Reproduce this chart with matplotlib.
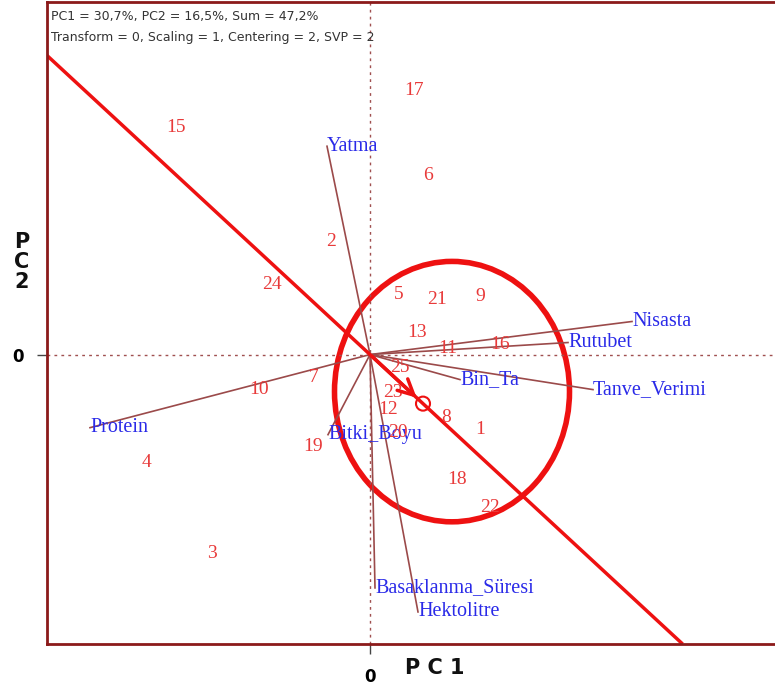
import numpy as np
import matplotlib.pyplot as plt
from matplotlib.patches import Ellipse, Circle

# Genotype scores (PC1, PC2)
gen_names = ['1', '2', '3', '4', '5', '6', '7', '8', '9', '10', '11', '12', '13',
             '15', '16', '17', '18', '19', '20', '21', '22', '23', '24', '25']
gen_pc1 = [1.10, -0.39, -1.58, -2.23, 0.29, 0.58, -0.56, 0.76, 1.10, -1.11, 0.78, 0.18, 0.47,
           -1.94, 1.30, 0.44, 0.87, -0.57, 0.28, 0.67, 1.20, 0.23, -0.98, 0.30]
gen_pc2 = [-0.75, 1.13, -1.99, -1.08, 0.60, 1.79, -0.23, -0.63, 0.58, -0.35, 0.06, -0.55, 0.22,
           2.27, 0.10, 2.64, -1.25, -0.92, -0.78, 0.55, -1.53, -0.38, 0.70, -0.13]

# Trait vectors (PC1, PC2)
traits = ['Yatma', 'Nisasta', 'Rutubet', 'Tanve_Verimi', 'Bin_Ta', 'Protein',
          'Bitki_Boyu', 'Basaklanma_Süresi', 'Hektolitre']
trait_pc1 = [-0.43, 2.62, 1.98, 2.23, 0.90, -2.80, -0.42, 0.05, 0.48]
trait_pc2 = [2.08, 0.33, 0.12, -0.35, -0.25, -0.73, -0.80, -2.33, -2.57]

# Average environment coordinate and the circle around it
aec = (0.53, -0.49)
ring_center = (0.82, -0.37)
ring_w, ring_h = 2.35, 2.60

xlim = (-3.23, 4.05)
ylim = (-2.89, 3.52)

fig = plt.figure(figsize=(7.75, 6.92), dpi=100)
ax = fig.add_axes([47 / 775, 48 / 692, 1 - 47 / 775, 642 / 692])
ax.set_xlim(*xlim)
ax.set_ylim(*ylim)

frame = '#8b1a1a'
for side in ['left', 'bottom', 'top']:
    ax.spines[side].set_color(frame)
    ax.spines[side].set_linewidth(2)
ax.spines['right'].set_visible(False)

# dotted reference axes through the origin
ax.axhline(0, color='#a05050', ls=(0, (2, 3)), lw=1)
ax.axvline(0, color='#a05050', ls=(0, (2, 3)), lw=1)

ax.set_xticks([0])
ax.set_yticks([0])
ax.set_xticklabels(['0'], fontsize=12, fontweight='bold')
ax.set_yticklabels(['0'], fontsize=12, fontweight='bold')
ax.tick_params(length=7, width=1, color='#444444', pad=10)

# trait vectors
for name, x, y in zip(traits, trait_pc1, trait_pc2):
    ax.plot([0, x], [0, y], color='#9b4a4a', lw=1.2)
    ax.text(x, y, name, color='#2a2ae8', fontsize=14.5, family='Liberation Serif',
            ha='left', va='center')

# genotype labels
for name, x, y in zip(gen_names, gen_pc1, gen_pc2):
    ax.text(x, y, name, color='#e83a3a', fontsize=14, family='Liberation Serif',
            ha='center', va='center')

# average environment axis
slope = aec[1] / aec[0]
x_end = ylim[0] / slope
ax.plot([xlim[0], x_end], [slope * xlim[0], ylim[0]], color='#ee1111', lw=2.5,
        solid_capstyle='butt')
ax.annotate('', xy=(aec[0] * 0.92, aec[1] * 0.92), xytext=(0, 0),
            arrowprops=dict(arrowstyle='->', color='#ee1111', lw=2.5, mutation_scale=28))
ax.add_patch(Circle(aec, 0.07, fill=False, ec='#ee1111', lw=1.5))
ax.add_patch(Ellipse(ring_center, ring_w, ring_h, fill=False, ec='#ee1111', lw=4))

ax.text(0.005, 0.988, 'PC1 = 30,7%, PC2 = 16,5%, Sum = 47,2%', transform=ax.transAxes,
        fontsize=9, color='#333333', ha='left', va='top')
ax.text(0.005, 0.955, 'Transform = 0, Scaling = 1, Centering = 2, SVP = 2', transform=ax.transAxes,
        fontsize=9, color='#333333', ha='left', va='top')

fig.text(435 / 775, 1 - 668 / 692, 'P C 1', fontsize=15, fontweight='bold',
         ha='center', va='center', color='#111111')
fig.text(22 / 775, 1 - 262 / 692, 'P\nC\n2', fontsize=15, fontweight='bold',
         ha='center', va='center', color='#111111', linespacing=1.0)

fig.savefig('out.png', dpi=100)
